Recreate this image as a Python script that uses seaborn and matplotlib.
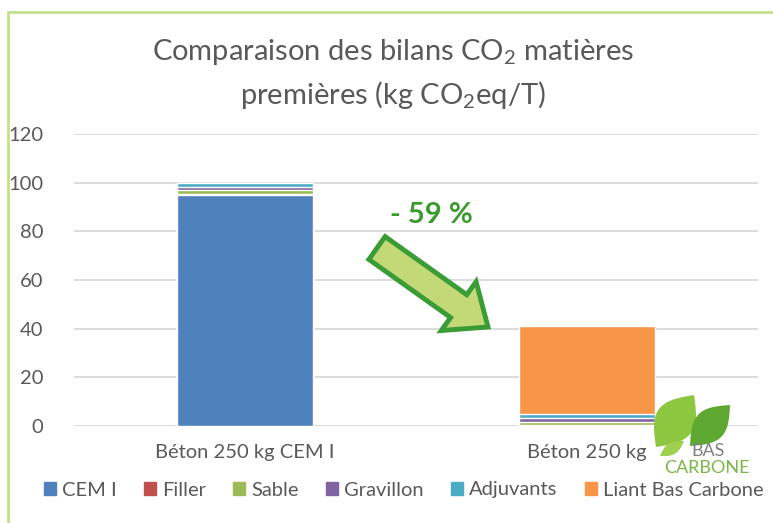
import numpy as np
import pandas as pd
import matplotlib
matplotlib.use("Agg")
import matplotlib.pyplot as plt
import seaborn as sns
from matplotlib.patches import FancyArrow, Rectangle, Polygon


# ======================================================
# DATA
# ======================================================
categories = ["Béton 250 kg CEM I", "Béton 250 kg"]
series = ["CEM I", "Filler", "Sable", "Gravillon", "Adjuvants", "Liant Bas Carbone"]
cem_i = [94.8, 0.0]
filler = [0.6, 0.3]
sable = [1.5, 1.5]
gravillon = [1.3, 1.4]
adjuvants = [1.8, 1.6]
liant_bas_carbone = [0.0, 36.3]
colors = ["#4f81bd", "#c0504d", "#9bbb59", "#8064a2", "#4bacc6", "#f79646"]
y_ticks = [0, 20, 40, 60, 80, 100, 120]
reduction_label = "- 59 %"


# ======================================================
# TABLE (cumulative for stacking)
# ======================================================
df = pd.DataFrame({
    "Catégorie": categories,
    "CEM I": cem_i,
    "Filler": filler,
    "Sable": sable,
    "Gravillon": gravillon,
    "Adjuvants": adjuvants,
    "Liant Bas Carbone": liant_bas_carbone,
})
cum = df[series].cumsum(axis=1)
cum["Catégorie"] = df["Catégorie"]


# ======================================================
# FIGURE
# ======================================================
sns.set_style("white")
plt.rcParams["font.family"] = ["Lato", "DejaVu Sans"]
plt.rcParams["mathtext.fontset"] = "custom"
plt.rcParams["mathtext.rm"] = "Lato"
plt.rcParams["mathtext.it"] = "Lato:italic"
plt.rcParams["mathtext.bf"] = "Lato:bold"

W, H = 773, 523
fig = plt.figure(figsize=(W / 100, H / 100), dpi=100)
ax = fig.add_axes([74 / W, 1 - 426 / H, 684 / W, 292 / H])

# draw from the top segment down so lower ones overlay
for name, col in reversed(list(zip(series, colors))):
    sns.barplot(data=cum, x="Catégorie", y=name, color=col, width=0.4,
                saturation=1, ax=ax, zorder=3)

ax.set_xlim(-0.5, 1.5)
ax.set_ylim(0, 120)
ax.set_yticks(y_ticks)
ax.yaxis.grid(True, color="#d9d9d9", linewidth=1.3, zorder=0)
ax.set_axisbelow(True)
for s in ax.spines.values():
    s.set_visible(False)
ax.set_xlabel("")
ax.set_ylabel("")
ax.tick_params(axis="y", length=0, pad=22, labelsize=14.5, labelcolor="#595959")
ax.tick_params(axis="x", length=0, pad=13, labelsize=14.5, labelcolor="#595959")


def px(x, y):
    # pixel position from top-left -> inches for dpi_scale_trans
    return x / 100, (H - y) / 100


# title
fig.text(0.508, 1 - 52 / H, "Comparaison des bilans CO$_2$ matières",
         ha="center", va="center", fontsize=21, color="#595959")
fig.text(0.508, 1 - 95 / H, "premières (kg CO$_2$eq/T)",
         ha="center", va="center", fontsize=21, color="#595959")

# arrow and reduction label
x0, y0 = px(377, 248)
x1, y1 = px(488, 327)
arrow = FancyArrow(x0, y0, x1 - x0, y1 - y0,
                   width=0.28, head_width=0.60, head_length=0.36,
                   length_includes_head=True, transform=fig.dpi_scale_trans,
                   facecolor="#c3d977", edgecolor="#3a9c35", linewidth=3.5,
                   joinstyle="miter")
fig.patches.append(arrow)
fig.text(431 / W, 1 - 215 / H, reduction_label, ha="center", va="center",
         fontsize=21, fontweight="bold", color="#3a9a2e")

# legend
handles = [Rectangle((0, 0), 1, 1, color=c) for c in colors]
fig.legend(handles, series, loc="center", bbox_to_anchor=(0.522, 1 - 490 / H),
           ncol=6, frameon=False, fontsize=14.5, handlelength=0.6,
           handleheight=0.6, handletextpad=0.3, columnspacing=1.35,
           labelcolor="#595959", borderaxespad=0, borderpad=0)


# logo "BAS CARBONE"
def leaf(p0, p1, w, col):
    t = np.linspace(0, 1, 40)
    a = np.array(px(*p0))
    b = np.array(px(*p1))
    d = b - a
    n = np.array([-d[1], d[0]]) / np.hypot(*d)
    mid = a[None, :] + t[:, None] * d[None, :]
    bulge = (w / 100) * np.sin(np.pi * t)[:, None] * n[None, :]
    pts = np.vstack([mid + bulge, (mid - bulge)[::-1]])
    fig.patches.append(Polygon(pts, closed=True, transform=fig.dpi_scale_trans,
                               facecolor=col, edgecolor="none"))


leaf((656, 447), (694, 395), 20, "#8dc63f")
leaf((690, 446), (730, 405), 16, "#5ea832")
leaf((660, 456), (684, 441), 6, "#9fd04f")
fig.text(708 / W, 1 - 451 / H, "BAS", ha="center", va="center",
         fontsize=13, color="#7f7f7f")
fig.text(707 / W, 1 - 468 / H, "CARBONE", ha="center", va="center",
         fontsize=13, color="#7ab648")

# outer green frame
fig.patches.append(Rectangle((8 / W, -0.05), 1.0, 1 - 12 / H + 0.05,
                             transform=fig.transFigure, fill=False,
                             edgecolor="#c5e08a", linewidth=2))

fig.savefig("out.png", dpi=100)
